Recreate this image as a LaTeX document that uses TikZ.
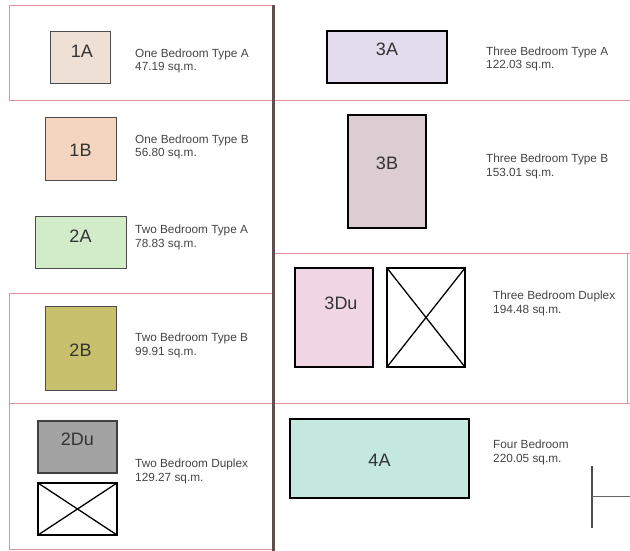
\documentclass[tikz,border=0pt]{standalone}
\usepackage{fontspec}
\setmainfont{Liberation Sans}
\usetikzlibrary{positioning}

\definecolor{frameRed}{HTML}{E3909C}
\definecolor{wallGray}{HTML}{5E5050}
\definecolor{txtGray}{HTML}{444444}
\definecolor{c1A}{HTML}{EFE0D6}
\definecolor{c1B}{HTML}{F4D6C0}
\definecolor{c2A}{HTML}{D2ECC9}
\definecolor{c2B}{HTML}{C9C06E}
\definecolor{c2Du}{HTML}{A3A3A3}
\definecolor{c3A}{HTML}{E2DCEC}
\definecolor{c3B}{HTML}{DCCDD3}
\definecolor{c3Du}{HTML}{F0D6E4}
\definecolor{c4A}{HTML}{C4E8DE}

\begin{document}
\begin{tikzpicture}[x=1pt, y=-1pt,
	unit/.style={draw=black!70, line width=0.9pt, inner sep=0pt, outer sep=0pt},
	bold unit/.style={unit, draw=black, line width=1.5pt},
	xbox/.style={draw=black, line width=1.3pt, inner sep=0pt, outer sep=0pt},
	tag/.style={inner sep=0pt, font=\fontsize{18}{20}\selectfont, text=black!80},
	info/.style={anchor=base west, inner sep=0pt, align=left, text=txtGray, font=\fontsize{11.8}{13.6}\selectfont},
	frame/.style={frameRed, line width=1.2pt}]
	\useasboundingbox (0,0) rectangle (630,551);
	% red frames
	\draw[frame] (273,5.5) -- (9.5,5.5) -- (9.5,100.5) -- (630,100.5);
	\draw[frame] (273,293.5) -- (9.5,293.5) -- (9.5,549.5) -- (273,549.5);
	\draw[frame] (9.5,403.5) -- (630,403.5);
	\draw[frame] (273,253.5) -- (630,253.5);
	\draw[frame] (627.5,253.5) -- (627.5,403.5);
	% left column
	\node[unit, fill=c1A, minimum width=60, minimum height=52] (u1A) at (80,57) {};
	\node[unit, fill=c1B, minimum width=71, minimum height=63] (u1B) at (80.5,148.5) {};
	\node[unit, fill=c2A, minimum width=91, minimum height=52] (u2A) at (80.5,242) {};
	\node[unit, fill=c2B, minimum width=71, minimum height=84] (u2B) at (80.5,348) {};
	\node[bold unit, draw=black!75, fill=c2Du, minimum width=79, minimum height=52] (u2Du) at (77.5,447) {};
	\node[xbox, minimum width=79, minimum height=52, below=10pt of u2Du] (x2Du) {};
	\draw[xbox] (x2Du.north west) -- (x2Du.south east) (x2Du.south west) -- (x2Du.north east);
	\node[tag] (t1A) at (82,51) {1A};
	\node[tag] (t1B) at (80.5,150) {1B};
	\node[tag] (t2A) at (80.5,236.5) {2A};
	\node[tag] (t2B) at (80.5,350) {2B};
	\node[tag] (t2Du) at (77.5,439) {2Du};
	\node[info] (i1A) at (135,71) {One Bedroom Type A\\47.19 sq.m.};
	\node[info] (i1B) at (135,157) {One Bedroom Type B\\56.80 sq.m.};
	\node[info] (i2A) at (135,247) {Two Bedroom Type A\\78.83 sq.m.};
	\node[info] (i2B) at (135,355) {Two Bedroom Type B\\99.91 sq.m.};
	\node[info] (i2Du) at (135,481) {Two Bedroom Duplex\\129.27 sq.m.};
	% right column
	\node[bold unit, fill=c3A, minimum width=120, minimum height=52] (u3A) at (387,57) {};
	\node[bold unit, fill=c3B, minimum width=78, minimum height=113] (u3B) at (387,171.5) {};
	\node[bold unit, fill=c3Du, minimum width=78, minimum height=99] (u3Du) at (334,317.5) {};
	\node[xbox, minimum width=78, minimum height=99, right=14pt of u3Du] (x3Du) {};
	\draw[xbox] (x3Du.north west) -- (x3Du.south east) (x3Du.south west) -- (x3Du.north east);
	\node[bold unit, fill=c4A, minimum width=179, minimum height=79] (u4A) at (379.5,458.5) {};
	\node[tag] (t3A) at (387,49.5) {3A};
	\node[tag] (t3B) at (387,163.5) {3B};
	\node[tag] (t3Du) at (341,303.5) {3Du};
	\node[tag] (t4A) at (379.5,460) {4A};
	\node[info] (i3A) at (486,69) {Three Bedroom Type A\\122.03 sq.m.};
	\node[info] (i3B) at (486,176) {Three Bedroom Type B\\153.01 sq.m.};
	\node[info] (i3Du) at (493,313) {Three Bedroom Duplex\\194.48 sq.m.};
	\node[info] (i4A) at (493,462) {Four Bedroom\\220.05 sq.m.};
	% dividing wall and corner mark
	\draw[wallGray, line width=3pt] (273,5) -- (273,551);
	\draw[black!70, line width=2.5pt] (592,466) -- (592,528);
	\draw[black!60, line width=1pt] (592,496) -- (630,496);
\end{tikzpicture}
\end{document}
